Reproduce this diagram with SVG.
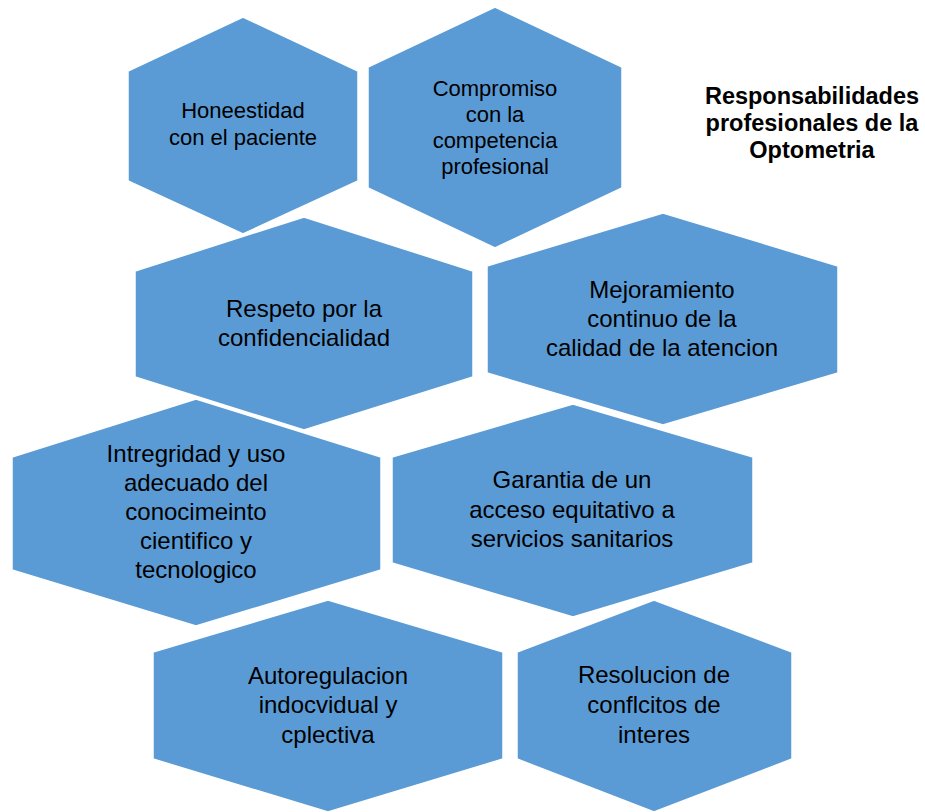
<svg xmlns="http://www.w3.org/2000/svg" width="925" height="812" viewBox="0 0 925 812">
  <style>
    .hex { fill: #5B9BD5; stroke: #FFFFFF; stroke-width: 1.5; stroke-linejoin: miter; }
    .lbl { font-family: "Liberation Sans", Arial, sans-serif; fill: #000000; text-anchor: middle; }
    .s22 { font-size: 22px; }
    .s24 { font-size: 24px; }
    .title { font-family: "Liberation Sans", Arial, sans-serif; font-weight: bold; font-size: 23.5px; fill: #000000; text-anchor: middle; }
  </style>
  <rect width="925" height="812" fill="#FFFFFF"/>
  <g id="connectors"></g>

  <g id="node-honestidad">
    <polygon class="hex" points="243,17 358,71 358,181 243,234 128,181 128,71"/>
    <text class="lbl s22" x="243" y="118">Honeestidad</text>
    <text class="lbl s22" x="243" y="145">con el paciente</text>
  </g>

  <g id="node-compromiso">
    <polygon class="hex" points="495,7 622,67 622,188 495,248 368,188 368,67"/>
    <text class="lbl s22" x="495" y="96">Compromiso</text>
    <text class="lbl s22" x="495" y="122">con la</text>
    <text class="lbl s22" x="495" y="148">competencia</text>
    <text class="lbl s22" x="495" y="174">profesional</text>
  </g>

  <g id="node-respeto">
    <polygon class="hex" points="304,217 473,271 473,377 304,430 135,377 135,271"/>
    <text class="lbl s24" x="304" y="317">Respeto por la</text>
    <text class="lbl s24" x="304" y="346">confidencialidad</text>
  </g>

  <g id="node-mejoramiento">
    <polygon class="hex" points="663,213 838,266 838,373 663,425 487,373 487,266"/>
    <text class="lbl s24" x="662" y="298">Mejoramiento</text>
    <text class="lbl s24" x="662" y="327">continuo de la</text>
    <text class="lbl s24" x="662" y="356">calidad de la atencion</text>
  </g>

  <g id="node-integridad">
    <polygon class="hex" points="196,399 381,457 381,570 196,626 12,570 12,457"/>
    <text class="lbl s24" x="196" y="462">Intregridad y uso</text>
    <text class="lbl s24" x="196" y="491">adecuado del</text>
    <text class="lbl s24" x="196" y="520">conocimeinto</text>
    <text class="lbl s24" x="196" y="549">cientifico y</text>
    <text class="lbl s24" x="196" y="578">tecnologico</text>
  </g>

  <g id="node-garantia">
    <polygon class="hex" points="573,404 753,457 753,563 573,617 392,563 392,457"/>
    <text class="lbl s24" x="572" y="488">Garantia de un</text>
    <text class="lbl s24" x="572" y="518">acceso equitativo a</text>
    <text class="lbl s24" x="572" y="547">servicios sanitarios</text>
  </g>

  <g id="node-autoregulacion">
    <polygon class="hex" points="328,600 503,652 503,759 328,812 153,759 153,652"/>
    <text class="lbl s24" x="328" y="684">Autoregulacion</text>
    <text class="lbl s24" x="328" y="713">indocvidual y</text>
    <text class="lbl s24" x="328" y="743">cplectiva</text>
  </g>

  <g id="node-resolucion">
    <polygon class="hex" points="654,600 792,652 792,759 654,812 517,759 517,652"/>
    <text class="lbl s24" x="654" y="683">Resolucion de</text>
    <text class="lbl s24" x="654" y="713">conflcitos de</text>
    <text class="lbl s24" x="654" y="743">interes</text>
  </g>

  <g id="title">
    <text class="title" x="812" y="104">Responsabilidades</text>
    <text class="title" x="812" y="131">profesionales de la</text>
    <text class="title" x="812" y="158">Optometria</text>
  </g>
</svg>
